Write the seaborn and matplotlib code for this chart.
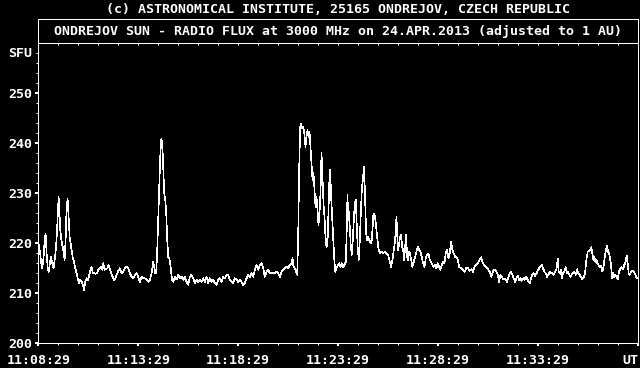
import numpy as np
import pandas as pd
import matplotlib
matplotlib.use("Agg")
import matplotlib.pyplot as plt
from matplotlib.patches import Rectangle
import seaborn as sns

# seconds after 11:08:29 UT and flux in SFU
t_a = [0, 5, 9, 12, 16, 19, 22, 25, 28, 31, 35, 38, 42, 46, 49, 52, 55, 58, 61, 63,
       66, 69, 73, 76, 79, 82, 85, 88, 91, 94, 97, 100, 103, 107, 111, 115, 119, 123, 126, 130,
       134, 137, 141, 145, 149, 153, 157, 160, 164, 168, 172, 176, 180, 184, 188, 192, 195, 199, 203, 207,
       211, 215, 219, 223, 227, 231, 235, 240, 245]
v_a = [220.1, 218.3, 216, 215, 217.3, 220.7, 221.9, 218, 215.3, 214.3, 216, 217.3, 216, 215, 216.7, 218.3, 221, 225.3, 229.3, 226.7,
       222.7, 220.7, 219.3, 218.3, 216.7, 220.7, 227.3, 228.8, 225.3, 221.3, 220, 218.7, 217.3, 216.3, 215, 214, 212.7, 212, 212.7, 212.3,
       211.7, 210.7, 212.3, 213, 212.7, 213.7, 214.7, 215.2, 214, 214, 213.9, 214, 214.7, 215, 215.2, 214.7, 216, 214.7, 214.8, 215,
       215.7, 214.7, 214, 213.3, 212.7, 213, 213.7, 214.5, 215]

t_b = [250, 255, 260, 265, 270, 275, 280, 285, 290, 295, 300, 305, 310, 315, 320, 325, 330, 335, 340, 345,
       348, 351, 354, 357, 360, 363, 366, 369, 372, 375, 378, 381, 384, 387, 390, 393, 396, 399, 402, 405,
       410, 415, 420, 425, 430, 435, 440, 445, 450, 455, 460, 465, 470, 475, 480, 485, 490, 495, 500, 505,
       510, 515, 520, 525, 530, 535, 540, 545, 550, 555, 560, 565, 570, 575, 580, 585, 590, 595, 600, 605,
       610, 615, 620, 625, 630, 635, 640, 645, 650, 655, 660, 665, 670, 675, 680, 685, 690, 695, 700, 705,
       710, 715, 720, 725, 730, 735, 740, 745, 750, 755, 760, 763, 766, 770, 773, 777, 780, 783, 786, 789,
       792, 795, 798, 802, 805, 808, 811, 814, 817, 820, 823, 826, 829, 832, 835, 838, 841, 844]
v_b = [214, 214.3, 215, 215.3, 215, 214, 213.3, 213, 213.7, 214, 213.3, 212.3, 213.3, 213, 213, 212.7, 212.3, 212.7, 214, 216.3,
       215.3, 214, 214, 218.7, 225.3, 231.3, 237.3, 240.8, 240.3, 235.3, 230, 228.7, 226, 220.7, 217.3, 217, 216, 214, 212.7, 212.3,
       213.3, 212.8, 213.7, 213, 213.3, 212.7, 213.3, 212.3, 211.7, 213.3, 213.7, 213, 212, 212.7, 212.3, 212.7, 212.3, 213, 212.3, 213.3,
       212, 213, 212.3, 212.7, 212, 211.7, 212.7, 213, 212.3, 213.3, 213, 213.7, 213.7, 212.7, 212.3, 212, 213, 212.7, 212.3, 212.7,
       212.3, 211.7, 212, 213, 213.7, 213.3, 214, 213.3, 214.7, 215.7, 214.7, 215.7, 216, 215, 213.3, 214.3, 214.7, 214, 214, 214.1,
       214, 214.3, 214, 213.3, 214.3, 214.7, 215, 215.3, 215, 215.7, 216, 217, 215.3, 215, 214.3, 213.7, 221.3, 234.7, 243.3, 243.9,
       243, 243.3, 242.3, 239.3, 241.3, 242.7, 241.3, 242.3, 239.3, 236, 232.7, 234, 230.7, 227.3, 229.3, 226.7, 223.7, 226]

t_c = [847, 850, 853, 856, 859, 862, 865, 868, 871, 874, 876, 879, 882, 885, 888, 891, 895, 899, 903, 907,
       911, 915, 919, 923, 926, 928, 930, 932, 935, 938, 941, 944, 947, 950, 953, 956, 959, 962, 965, 968,
       971, 975, 978, 981, 984, 987, 990, 993, 996, 1000, 1003, 1006, 1009, 1012, 1015, 1018, 1021, 1025, 1030, 1035,
       1040, 1045, 1050, 1055, 1059, 1063, 1067, 1070, 1073, 1075, 1077, 1080, 1083, 1086, 1089, 1092, 1095, 1098, 1101, 1104,
       1107, 1110, 1113, 1116, 1119, 1123, 1127, 1131, 1135, 1139, 1143, 1147, 1151, 1155, 1159, 1163, 1167, 1171, 1175, 1179,
       1183, 1187, 1191, 1195, 1199, 1203, 1207, 1211, 1215, 1219, 1223, 1227, 1231, 1235, 1239, 1243, 1247, 1251, 1255, 1259,
       1263]
v_c = [230, 238, 233.3, 228, 225.3, 221.3, 219.3, 219.7, 226.7, 233.3, 234.7, 229.3, 225.3, 221.3, 217.3, 214.3, 215, 215.7, 216, 215.3,
       216, 215.3, 215.7, 216.3, 223.3, 229.7, 224.7, 226.3, 223.3, 219.3, 217.7, 220.7, 224.7, 228, 228.7, 223.3, 218.7, 216.7, 220.7, 226,
       230.7, 233.3, 235.3, 228.7, 222, 220.7, 221.3, 220.7, 220.3, 220, 222.7, 226, 225.7, 224.7, 222.7, 220.7, 219, 218, 218.3, 218,
       218.3, 218, 217.7, 216.3, 215.3, 216.7, 218.7, 220, 222.7, 225.3, 222, 218.7, 220, 221.3, 221.7, 219.3, 218.7, 216.7, 219.3, 221.7,
       217.3, 216.7, 218.3, 218, 216.7, 215.3, 216.3, 217.3, 218.3, 219.3, 218.7, 218.3, 217.3, 216, 215.3, 217, 217.7, 218, 216.7, 216.3,
       215.7, 215.3, 215.7, 215, 216, 215.3, 214.7, 215.7, 216.3, 216, 218, 218.7, 217, 218, 220.3, 218.7, 218, 217.3, 217.3, 216.7,
       215.3]

t_d = [1270, 1275, 1280, 1285, 1290, 1295, 1300, 1305, 1310, 1315, 1320, 1325, 1329, 1333, 1337, 1341, 1345, 1350, 1355, 1360,
       1363, 1367, 1371, 1375, 1379, 1383, 1387, 1391, 1395, 1399, 1403, 1407, 1411, 1415, 1419, 1423, 1427, 1431, 1435, 1439,
       1443, 1447, 1451, 1455, 1459, 1463, 1467, 1471, 1475, 1479, 1483, 1487, 1491, 1495, 1499, 1503, 1507, 1511, 1515, 1519,
       1523, 1527, 1531, 1535, 1539, 1543, 1547, 1551, 1555, 1559, 1562, 1565, 1568, 1571, 1575, 1579, 1583, 1586, 1589, 1593,
       1597, 1601, 1605, 1609, 1613, 1617, 1621, 1625, 1629, 1633, 1637, 1641, 1645, 1649, 1653, 1657, 1660, 1663, 1666, 1669,
       1672, 1675, 1678, 1681, 1685, 1689, 1692, 1695, 1698, 1701, 1704, 1707, 1710, 1713, 1716, 1719, 1722, 1725, 1728, 1731,
       1735, 1739, 1743, 1747, 1751, 1755, 1759, 1763, 1766, 1769, 1772, 1775, 1779, 1783, 1787, 1791, 1795, 1799]
v_d = [215, 214.7, 214.3, 215.2, 215, 214.5, 214.8, 214.3, 215.5, 215.7, 216.1, 216.7, 217.2, 216.3, 215.7, 215.5, 215.2, 214.8, 214.3, 213.3,
       214, 214.7, 214.8, 214.3, 213.7, 212.3, 213.7, 213.3, 212.8, 213, 212.7, 212.3, 213.3, 214, 214.3, 213.7, 213, 212.3, 213, 213.5,
       212.7, 213, 212.5, 213, 212.7, 213.3, 213, 212.3, 212, 213, 213.7, 214, 213.5, 213.9, 214.5, 215, 215.3, 215.7, 215, 214.3,
       214, 213.3, 213.7, 214.3, 214, 214.1, 213.7, 214.3, 214.7, 216.9, 214.3, 214, 214.7, 213, 214, 214.3, 215.2, 214, 214.3, 213.9,
       213.3, 213.7, 214, 214.3, 213.7, 214.8, 214, 213.7, 213.2, 212.8, 213.2, 214, 216.7, 218.3, 218.5, 218.7, 219.2, 218, 216.7, 217.3,
       216.3, 216.7, 216, 215.7, 215.2, 215.5, 214.5, 214.7, 216, 217.7, 218.7, 219.5, 218.3, 218, 217, 215.7, 213, 214, 213.3, 213.7,
       213.3, 212.8, 214.3, 215, 215.2, 214.8, 215.7, 216.3, 217.5, 216, 214, 213.7, 214.3, 214.5, 214.3, 213.9, 213.2, 213]

tick_seconds = [0, 300, 600, 900, 1200, 1500, 1800]
tick_labels = ["11:08:29", "11:13:29", "11:18:29", "11:23:29", "11:28:29", "11:33:29", "UT"]
y_ticks = [200, 210, 220, 230, 240, 250]
header = "(c) ASTRONOMICAL INSTITUTE, 25165 ONDREJOV, CZECH REPUBLIC"
title = "ONDREJOV SUN - RADIO FLUX at 3000 MHz on 24.APR.2013 (adjusted to 1 AU)"

for a, b in [(t_a, v_a), (t_b, v_b), (t_c, v_c), (t_d, v_d)]:
    assert len(a) == len(b), (len(a), len(b))

df = pd.DataFrame({"t": t_a + t_b + t_c + t_d, "flux": v_a + v_b + v_c + v_d})

sns.set_theme(style="dark")
FONT = ["DejaVu Sans Mono"]
plt.rcParams["font.family"] = FONT
plt.rcParams["font.weight"] = "bold"
FS = 9.5
LW = 0.72  # one pixel at 100 dpi

fig = plt.figure(figsize=(6.4, 3.68), dpi=100, facecolor="black")
ax = fig.add_axes([38.3 / 640, 24.7 / 368, 599.7 / 640, 300 / 368])
ax.set_facecolor("black")

sns.lineplot(data=df, x="t", y="flux", ax=ax, color="white", linewidth=0.45,
             estimator=None, sort=False, antialiased=False)

ax.set_xlim(0, 1800)
ax.set_ylim(200, 260)
ax.grid(False)
ax.set_xlabel("")
ax.set_ylabel("")
for s in ax.spines.values():
    s.set_color("white")
    s.set_linewidth(LW)
    s.set_visible(True)
    s.set_antialiased(False)

ax.set_xticks(tick_seconds)
ax.set_xticklabels(tick_labels)
ax.set_xticks(np.arange(0, 1801, 60), minor=True)
ax.set_yticks(y_ticks)
ax.set_yticklabels([str(v) for v in y_ticks])
ax.set_yticks(np.arange(200, 260, 2), minor=True)
ax.tick_params(axis="both", which="major", colors="white", labelcolor="white",
               labelsize=FS, direction="out", length=2.5, width=1.5)
ax.tick_params(axis="both", which="minor", colors="white", direction="out",
               length=1.5, width=LW)
ax.tick_params(axis="x", which="major", pad=5.5)
ax.tick_params(axis="y", which="major", pad=2.0)
ax.tick_params(axis="x", which="both", bottom=True, top=False)
ax.tick_params(axis="y", which="both", left=True, right=False)
labels = ax.get_xticklabels()
labels[-1].set_horizontalalignment("right")
for lab in ax.get_xticklabels() + ax.get_yticklabels():
    lab.set_fontweight("bold")

sec = ax.secondary_xaxis("top")
sec.set_xticks(np.arange(60, 1800, 60))
sec.set_xticklabels([])
sec.tick_params(direction="in", length=1.5, width=LW, colors="white")
sec.spines["top"].set_color("white")
sec.spines["top"].set_linewidth(LW)

ax.text(-0.011, 258, "SFU", transform=ax.get_yaxis_transform(), ha="right", va="center",
        color="white", fontsize=FS, fontweight="bold")

box_h = 24 / 300
ax.add_patch(Rectangle((0, 1), 1, box_h, transform=ax.transAxes, fill=False,
                       edgecolor="white", linewidth=LW, clip_on=False, antialiased=False))
ax.text(0.5, 1 + box_h / 2, title, transform=ax.transAxes, ha="center", va="center",
        color="white", fontsize=FS, fontweight="bold")
fig.text(337.5 / 640, 1 - 9.5 / 368, header, ha="center", va="center",
         color="white", fontsize=FS, fontweight="bold")

fig.savefig("out.png", dpi=100, facecolor="black")
